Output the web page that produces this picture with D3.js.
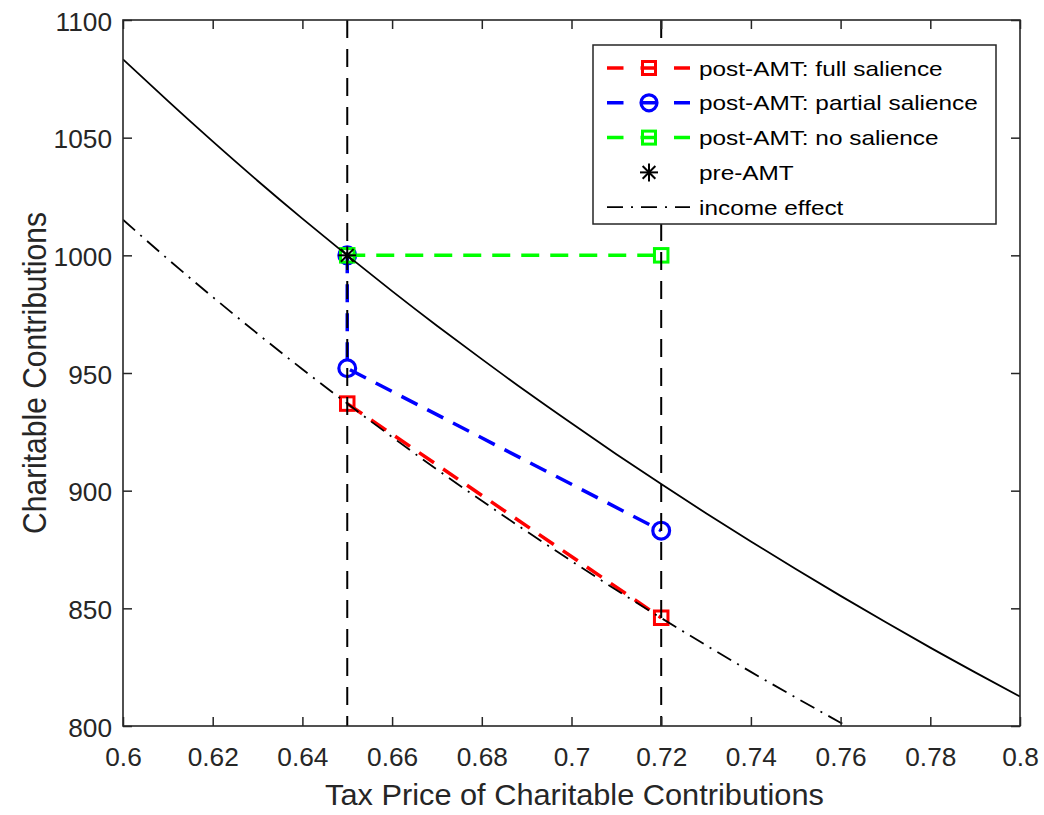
<!DOCTYPE html>
<html>
<head>
<meta charset="utf-8">
<script src="https://cdn.jsdelivr.net/npm/d3@7"></script>
<style>
  html, body { margin: 0; padding: 0; background: #fff; }
  svg { display: block; font-family: "Liberation Sans", Arial, Helvetica, sans-serif; }
</style>
</head>
<body>
<svg id="chart" width="1044" height="815"></svg>
<script>
// Price grid and the two demand curves sampled on it
const priceGrid = [0.60, 0.61, 0.62, 0.63, 0.64, 0.65, 0.66, 0.67, 0.68, 0.69, 0.70,
                   0.71, 0.72, 0.73, 0.74, 0.75, 0.76, 0.77, 0.78, 0.79, 0.80];
const demandCurve = [1083.3, 1065.6, 1048.4, 1031.7, 1015.6, 1000.0, 984.8, 970.1, 955.9, 942.0, 928.6,
                     915.5, 902.8, 890.4, 878.4, 866.7, 855.3, 844.2, 833.3, 822.8, 812.5];
const incomePrice = [0.60, 0.61, 0.62, 0.63, 0.64, 0.65, 0.66, 0.67, 0.68, 0.69, 0.70,
                     0.71, 0.72, 0.73, 0.74, 0.75, 0.76, 0.77];
const incomeEffect = [1015.1, 998.4, 982.3, 966.7, 951.6, 937.0, 922.8, 909.0, 895.7, 882.7, 870.1,
                      857.8, 845.9, 834.3, 823.0, 812.1, 801.4, 791.0];

// Scenario points
const fullPrice = [0.65, 0.72];
const fullContrib = [937, 846];
const partialPrice = [0.65, 0.65, 0.72];
const partialContrib = [1000, 952, 883];
const nonePrice = [0.65, 0.72];
const noneContrib = [1000, 1000];
const prePrice = [0.65];
const preContrib = [1000];
const amtPrices = [0.65, 0.72];

// Axis ticks
const xTicks = [0.60, 0.62, 0.64, 0.66, 0.68, 0.70, 0.72, 0.74, 0.76, 0.78, 0.80];
const yTicks = [800, 850, 900, 950, 1000, 1050, 1100];

const legendLabels = ["post-AMT: full salience", "post-AMT: partial salience",
                      "post-AMT: no salience", "pre-AMT", "income effect"];

const AXIS = "#262626";
const plot = { left: 123, top: 20, right: 1020, bottom: 726 };

const svg = d3.select("#chart");
const x = d3.scaleLinear().domain([0.6, 0.8]).range([plot.left, plot.right]);
const y = d3.scaleLinear().domain([800, 1100]).range([plot.bottom, plot.top]);

svg.append("defs").append("clipPath").attr("id", "plotClip")
  .append("rect")
  .attr("x", plot.left).attr("y", plot.top)
  .attr("width", plot.right - plot.left).attr("height", plot.bottom - plot.top);

const zip = (xs, ys) => xs.map((v, i) => [v, ys[i]]);
const line = d3.line().x(d => x(d[0])).y(d => y(d[1]));
const smooth = d3.line().x(d => x(d[0])).y(d => y(d[1])).curve(d3.curveNatural);

const g = svg.append("g").attr("clip-path", "url(#plotClip)");

// marker helpers
function squareMarker(sel, cx, cy, color, s) {
  sel.append("rect")
    .attr("x", cx - s / 2).attr("y", cy - s / 2)
    .attr("width", s).attr("height", s)
    .attr("fill", "none").attr("stroke", color).attr("stroke-width", 3);
}
function circleMarker(sel, cx, cy, color, r) {
  sel.append("circle").attr("cx", cx).attr("cy", cy).attr("r", r)
    .attr("fill", "none").attr("stroke", color).attr("stroke-width", 3.2);
}
function starMarker(sel, cx, cy, r) {
  const d = r * Math.SQRT1_2;
  const segs = [[-r, 0, r, 0], [0, -r, 0, r], [-d, -d, d, d], [-d, d, d, -d]];
  segs.forEach(s => sel.append("line")
    .attr("x1", cx + s[0]).attr("y1", cy + s[1])
    .attr("x2", cx + s[2]).attr("y2", cy + s[3])
    .attr("stroke", "#000").attr("stroke-width", 2));
}

const DASH = "18,11";

// full salience (red)
g.append("path").datum(zip(fullPrice, fullContrib)).attr("d", line)
  .attr("fill", "none").attr("stroke", "#ff0000").attr("stroke-width", 3.5)
  .attr("stroke-dasharray", DASH);
fullPrice.forEach((p, i) => squareMarker(g, x(p), y(fullContrib[i]), "#ff0000", 13.5));

// partial salience (blue)
g.append("path").datum(zip(partialPrice, partialContrib)).attr("d", line)
  .attr("fill", "none").attr("stroke", "#0000ff").attr("stroke-width", 3.5)
  .attr("stroke-dasharray", DASH);
partialPrice.forEach((p, i) => circleMarker(g, x(p), y(partialContrib[i]), "#0000ff", 8.4));

// no salience (green)
g.append("path").datum(zip(nonePrice, noneContrib)).attr("d", line)
  .attr("fill", "none").attr("stroke", "#00ff00").attr("stroke-width", 3.5)
  .attr("stroke-dasharray", DASH);
nonePrice.forEach((p, i) => squareMarker(g, x(p), y(noneContrib[i]), "#00ff00", 13.5));

// pre-AMT point
prePrice.forEach((p, i) => starMarker(g, x(p), y(preContrib[i]), 9));

// income-effect curve
g.append("path").datum(zip(incomePrice, incomeEffect)).attr("d", smooth)
  .attr("fill", "none").attr("stroke", "#000").attr("stroke-width", 1.8)
  .attr("stroke-dasharray", "16,7,2,7");

// demand curve
g.append("path").datum(zip(priceGrid, demandCurve)).attr("d", smooth)
  .attr("fill", "none").attr("stroke", "#000").attr("stroke-width", 1.8);

// vertical reference lines at the two tax prices
amtPrices.forEach(p => {
  g.append("line")
    .attr("x1", x(p)).attr("x2", x(p))
    .attr("y1", y(1100)).attr("y2", y(800))
    .attr("stroke", "#000").attr("stroke-width", 2)
    .attr("stroke-dasharray", "18,11");
});

// axes (ticks point inward, mirrored on top and right)
const TICK = 9;
const fmt = d => String(+d.toFixed(2));

const xAxis = svg.append("g").attr("transform", `translate(0,${plot.bottom})`)
  .call(d3.axisBottom(x).tickValues(xTicks).tickSizeInner(-TICK).tickSizeOuter(0).tickFormat(fmt));
const xTop = svg.append("g").attr("transform", `translate(0,${plot.top})`)
  .call(d3.axisTop(x).tickValues(xTicks).tickSizeInner(-TICK).tickSizeOuter(0).tickFormat(""));
const yAxis = svg.append("g").attr("transform", `translate(${plot.left},0)`)
  .call(d3.axisLeft(y).tickValues(yTicks).tickSizeInner(-TICK).tickSizeOuter(0).tickFormat(d => d));
const yRight = svg.append("g").attr("transform", `translate(${plot.right},0)`)
  .call(d3.axisRight(y).tickValues(yTicks).tickSizeInner(-TICK).tickSizeOuter(0).tickFormat(""));

[xAxis, xTop, yAxis, yRight].forEach(a => {
  a.select(".domain").remove();
  a.selectAll(".tick line").attr("stroke", AXIS).attr("stroke-width", 1.5);
});

xAxis.selectAll(".tick text")
  .attr("y", null).attr("dy", null)
  .attr("transform", "translate(0,40) scale(1.05,1)")
  .attr("text-anchor", "middle")
  .attr("font-size", 25).attr("fill", AXIS)
  .attr("font-family", "Liberation Sans, Arial, sans-serif");

yAxis.selectAll(".tick text")
  .attr("x", null).attr("dy", null)
  .attr("transform", "translate(-11,10) scale(1.05,1)")
  .attr("text-anchor", "end")
  .attr("font-size", 25).attr("fill", AXIS)
  .attr("font-family", "Liberation Sans, Arial, sans-serif");

// frame
svg.append("rect")
  .attr("x", plot.left).attr("y", plot.top)
  .attr("width", plot.right - plot.left).attr("height", plot.bottom - plot.top)
  .attr("fill", "none").attr("stroke", AXIS).attr("stroke-width", 1.6);

// axis titles
svg.append("text")
  .attr("transform", `translate(${(plot.left + plot.right) / 2 + 3},805) scale(1.06,1)`)
  .attr("text-anchor", "middle").attr("font-size", 29).attr("fill", AXIS)
  .text("Tax Price of Charitable Contributions");

svg.append("text")
  .attr("transform", `translate(46,${(plot.top + plot.bottom) / 2}) rotate(-90) scale(1,1.12)`)
  .attr("text-anchor", "middle").attr("font-size", 30).attr("fill", AXIS)
  .text("Charitable Contributions");

// legend
const leg = svg.append("g");
leg.append("rect")
  .attr("x", 593).attr("y", 45).attr("width", 403).attr("height", 179)
  .attr("fill", "#fff").attr("stroke", AXIS).attr("stroke-width", 1.5);

const rowY = i => 68 + i * 34.8;
const sx0 = 607, sx1 = 690, mx = 649, tx = 699;

const legendStyles = [
  { color: "#ff0000", marker: "square", dash: "16.5,17" },
  { color: "#0000ff", marker: "circle", dash: "16.5,17" },
  { color: "#00ff00", marker: "square", dash: "16.5,17" },
  { color: "#000", marker: "star", dash: null },
  { color: "#000", marker: null, dash: "16,8,2,8", width: 1.8 }
];

legendLabels.forEach((label, i) => {
  const st = legendStyles[i];
  const cy = rowY(i);
  if (st.dash) {
    leg.append("line").attr("x1", sx0).attr("x2", sx1).attr("y1", cy).attr("y2", cy)
      .attr("stroke", st.color).attr("stroke-width", st.width || 3.5)
      .attr("stroke-dasharray", st.dash);
  }
  if (st.marker === "square") squareMarker(leg, mx, cy, st.color, 13);
  if (st.marker === "circle") circleMarker(leg, mx, cy, st.color, 8);
  if (st.marker === "star") starMarker(leg, mx, cy, 9);
  leg.append("text")
    .attr("transform", `translate(${tx},${cy + 7.5}) scale(1.16,1)`)
    .attr("font-size", 21).attr("fill", "#000")
    .text(label);
});
</script>
</body>
</html>
